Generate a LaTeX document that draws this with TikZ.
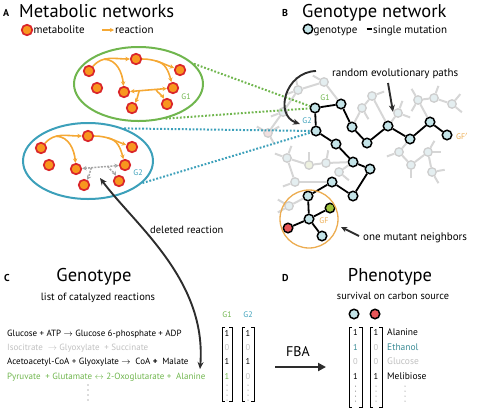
\documentclass[tikz,border=0pt]{standalone}
\usepackage{fontspec}
\setmainfont{PT Sans}
\usetikzlibrary{arrows.meta,shapes.geometric}
\definecolor{mgreen}{RGB}{112,182,78}
\definecolor{mblue}{RGB}{60,160,186}
\definecolor{morange}{RGB}{245,168,52}
\definecolor{mred}{RGB}{218,38,42}
\definecolor{mfill}{RGB}{248,150,30}
\definecolor{gfill}{RGB}{196,228,232}
\definecolor{gline}{RGB}{214,214,214}
\definecolor{gnline}{RGB}{206,206,206}
\definecolor{gnfill}{RGB}{228,238,240}
\definecolor{gforange}{RGB}{236,172,80}
\definecolor{tgreen}{RGB}{112,182,78}
\definecolor{tteal}{RGB}{60,140,150}
\definecolor{tgrey}{RGB}{192,192,192}
\definecolor{darkarrow}{RGB}{45,45,45}
\newcommand\metnet[2]{%
  \node[met] (#1a) at (89,-71) {};
  \node[met] (#1b) at (136,-59) {};
  \node[met] (#1c) at (180,-70) {};
  \node[met] (#1d) at (97,-88) {};
  \node[met] (#1e) at (124,-92) {};
  \node[met] (#1f) at (173,-88) {};
  \node[met] (#1g) at (132,-108) {};
  \node[met] (#1h) at (167,-104) {};
  \draw[rxn] (#1a) to[out=50,in=180] coordinate[pos=0.35] (#1r1) (#1b);
  \draw[rxn] (#1r1) to[out=0,in=95] (#1e);
  \draw[rxn] (#1b) to[out=0,in=160] coordinate[pos=0.4] (#1r2) (#1c);
  \draw[rxn] (#1r2) to[out=-10,in=105] (#1f);
  \draw[#2,{Stealth[length=4.5pt,width=4.5pt]}-{Stealth[length=4.5pt,width=4.5pt]}] (#1e) -- coordinate[pos=0.25] (#1r3) coordinate[pos=0.7] (#1r4) (#1f);
  \draw[#2,-{Stealth[length=4.5pt,width=4.5pt]}] (#1r3) to[out=-110,in=60] (#1g);
  \draw[#2,-{Stealth[length=4.5pt,width=4.5pt]}] (#1r4) to[out=-60,in=120] (#1h);
}
\begin{document}
\begin{tikzpicture}[x=1pt,y=1pt,
  met/.style={circle,minimum size=10.5pt,inner sep=0,fill=mfill,draw=mred,line width=1.7pt},
  rxn/.style={draw=morange,line width=1.6pt,-{Stealth[length=4.5pt,width=4.5pt]}},
  rxnok/.style={draw=morange,line width=1.6pt},
  rxndel/.style={draw=gray!70,line width=1.5pt,dash pattern=on 2pt off 1.2pt},
  ttl/.style={font=\fontsize{18.5}{20}\selectfont,inner sep=0,anchor=base west},
  plab/.style={font=\bfseries\fontsize{10}{12}\selectfont,inner sep=0,anchor=base west},
  leg/.style={font=\fontsize{11}{13}\selectfont,inner sep=0,anchor=base west},
  glab/.style={font=\fontsize{8}{10}\selectfont,inner sep=0},
  gnode/.style={circle,minimum size=9.5pt,inner sep=0,fill=gfill,draw=black,line width=1.5pt},
  gg/.style={circle,minimum size=8.5pt,inner sep=0,fill=gnfill,draw=gnline,line width=1.3pt},
  gedge/.style={draw=gline,line width=2pt},
  pedge/.style={draw=black,line width=1.8pt},
  dotg/.style={draw=mgreen,line width=2pt,dash pattern=on 1.8pt off 1.8pt},
  dotb/.style={draw=mblue,line width=2pt,dash pattern=on 1.8pt off 1.8pt},
  bigarrow/.style={draw=darkarrow,line width=1.9pt},
  rx/.style={font=\fontsize{9}{11}\selectfont,inner sep=0,anchor=base west},
  ent/.style={font=\fontsize{8.5}{10}\selectfont,inner sep=0,anchor=base},
  brk/.style={draw=black,line width=0.9pt},
  sub/.style={font=\fontsize{10.5}{12}\selectfont,inner sep=0,anchor=base},
  lab/.style={font=\fontsize{11}{13}\selectfont,inner sep=0,anchor=base west}
]
\useasboundingbox (0,0) rectangle (478,-410);

% ---------------- Panel A ----------------
\node[plab] (labA) at (3,-16) {A};
\node[ttl] (ttlA) at (19,-17) {Metabolic networks};
\node[met] (legm) at (27,-30) {};
\node[leg] (legmt) at (33.5,-33.5) {metabolite};
\coordinate (legr1) at (102,-30);
\coordinate (legr2) at (114,-30);
\draw[rxn,-{Stealth[length=4pt,width=4pt]}] (legr1) -- (legr2);
\node[leg] (legrt) at (115,-33.5) {reaction};

\node[draw=mgreen,line width=2pt,ellipse,minimum width=129pt,minimum height=74pt,inner sep=0] (ellG1) at (138.5,-84) {};
\node[draw=mblue,line width=2pt,ellipse,minimum width=130pt,minimum height=76pt,inner sep=0] (ellG2) at (88,-161) {};

\metnet{p}{rxnok}
\begin{scope}[shift={(-48,-77)}]
\metnet{q}{rxndel}
\end{scope}
\node[glab,text=mgreen] (lG1) at (186,-97) {G1};
\node[glab,text=mblue] (lG2) at (138,-173) {G2};

% ---------------- Panel B ----------------
\node[plab] (labB) at (282,-16) {B};
\node[ttl] (ttlB) at (302,-17) {Genotype network};
\node[gnode] (leggn) at (308,-29) {};
\node[leg] (leggt) at (313.5,-33.5) {genotype};
\coordinate (legd1) at (366.5,-29);
\coordinate (legd2) at (371.5,-29);
\draw[line width=1.8pt] (legd1) -- (legd2);
\node[leg] (legst) at (373,-33.5) {single mutation};

% grey background network
\node[gg] (ga) at (324,-82) {};
\node[gg] (gb) at (298,-90) {};
\node[gg] (gc) at (283,-112) {};
\node[gg,fill={rgb,255:red,240;green,224;blue,224}] (gd) at (268,-133) {};
\node[gg] (ge) at (362,-108) {};
\node[gg] (gf) at (372,-96) {};
\node[gg] (ggn) at (398,-113) {};
\node[gg] (gh) at (418,-100) {};
\node[gg] (gi) at (434,-98) {};
\node[gg] (gj) at (452,-104) {};
\node[gg] (gk) at (287,-158) {};
\node[gg,fill={rgb,255:red,238;green,241;blue,224}] (gl) at (309,-165) {};
\node[gg] (gm) at (326,-163) {};
\node[gg] (gn) at (339,-172) {};
\node[gg] (go) at (295,-182) {};
\node[gg] (gp) at (289,-206) {};
\node[gg] (gq) at (399,-152) {};
\node[gg] (gr) at (411,-165) {};
\node[gg] (gs) at (428,-152) {};
\node[gg] (gt) at (432,-172) {};

% black path nodes
\node[gnode] (gG1) at (315,-108) {};
\node[gnode] (pa) at (341,-104) {};
\node[gnode] (pb) at (352,-127) {};
\node[gnode] (pc) at (367,-143) {};
\node[gnode] (pd) at (388,-126) {};
\node[gnode] (pe) at (410,-139) {};
\node[gnode] (pf) at (430,-122) {};
\node[gnode] (gGFp) at (447,-135) {};
\node[gnode] (gG2) at (316,-131) {};
\node[gnode] (qa) at (336,-144) {};
\node[gnode] (qb) at (353,-162) {};
\node[gnode] (qc) at (370,-169) {};
\node[gnode] (qd) at (353,-196) {};
\node[gnode] (qe) at (332,-182) {};
\node[gnode] (qf) at (308,-196) {};
\node[gnode] (gGF) at (309,-219) {};
\node[gnode,fill={rgb,255:red,160;green,196;blue,60}] (gGreen) at (330,-208) {};
\node[gnode,fill={rgb,255:red,232;green,86;blue,88}] (gRed) at (288,-228) {};
\node[gnode] (gBot) at (322,-236) {};

% grey edges
\foreach \a/\b in {ga/gb,gb/gc,gc/gd,ge/gf,ge/pb,gf/pd,ggn/pd,gh/gi,gi/gj,gh/pf,gq/gr,gr/gs,gs/gt,gq/pe,gk/gl,gl/gm,gm/qb,gn/qb,go/gk,gp/qf,go/qe,ga/pa}
  \draw[gedge] (\a) -- (\b);
\foreach \n/\ang in {ga/150,gb/200,gb/100,gc/200,gd/150,gd/30,gd/-60,ge/-60,gf/20,ggn/-20,ggn/70,gh/120,gh/-120,gi/70,gj/50,gj/-40,gk/160,gk/70,gl/90,gm/80,gn/-40,go/200,gp/150,gp/210,gq/200,gr/-90,gs/60,gs/0,gt/-60,gt/10}
  \draw[gedge] (\n.\ang) -- ++(\ang:8);

% black edges
\foreach \a/\b in {gG1/pa,pa/pb,pb/pc,pc/pd,pd/pe,pe/pf,pf/gGFp,gG1/gG2,gG2/qa,qa/qb,qb/qc,qc/qd,qd/qe,qe/qf,qf/gGF,gGF/gGreen,gGF/gRed,gGF/gBot}
  \draw[pedge] (\a) -- (\b);

\node[glab,text=mgreen] (tG1) at (325,-98) {G1};
\node[glab,text=mblue] (tG2) at (307,-121) {G2};
\node[glab,text=gforange,anchor=west] (tGFp) at (456,-136) {GF$'$};
\node[glab,text=gforange] (tGF) at (324,-221) {GF};
\node[draw=gforange,line width=1.3pt,circle,minimum size=58pt,inner sep=0] (circGF) at (309,-219) {};

% dotted connections
\draw[dotg] (ellG1.20) -- (gG1);
\draw[dotg] (ellG1.-52) -- (gG1);
\draw[dotb] (ellG2.42) -- (gG2);
\draw[dotb] (ellG2.-22) -- (gG2);

% annotations in B
\node[lab] (trep) at (332,-76) {random evolutionary paths};
\coordinate (rA1) at (316,-71);
\coordinate (rA2) at (300,-124);
\draw[bigarrow,-{Stealth[length=7pt,width=6pt]}] (rA1) .. controls (285,-72) and (274,-115) .. (rA2);
\coordinate (rB1) at (388,-83);
\coordinate (rB2) at (393,-112);
\draw[bigarrow,-{Stealth[length=7pt,width=6pt]}] (rB1) -- (rB2);
\node[lab] (tomn) at (363,-240) {one mutant neighbors};
\coordinate (oA1) at (359,-236);
\coordinate (oA2) at (341,-227);
\draw[bigarrow,-{Stealth[length=6pt,width=5.5pt]}] (oA1) -- (oA2);

% deleted reaction arrow
\node[lab,font=\fontsize{10.5}{12}\selectfont] (tdel) at (150,-233) {deleted reaction};
\coordinate (delR) at (100,-178);
\coordinate (delL) at (200,-369);
\draw[bigarrow,{Stealth[length=7pt,width=6pt]}-{Stealth[length=7pt,width=6pt]}] (delR) .. controls (135,-225) and (207,-280) .. (delL);

% ---------------- Panel C ----------------
\node[plab] (labC) at (4,-281) {C};
\node[ttl,anchor=base] (ttlC) at (94,-281) {Genotype};
\node[sub] (subC) at (98,-300) {list of catalyzed reactions};
\node[rx] (r1) at (7,-336) {Glucose + ATP $\rightarrow$ Glucose 6-phosphate + ADP};
\node[rx,text=tgrey] (r2) at (7,-350) {Isocitrate \ $\rightarrow$ Glyoxylate \ + Succinate};
\node[rx] (r3) at (7,-364) {Acetoacetyl-CoA + Glyoxylate $\rightarrow$ \ CoA \textbf{+} \ Malate};
\node[rx,text=tgreen] (r4) at (7,-379) {Pyruvate \ + Glutamate $\leftrightarrow$ 2-Oxoglutarate + \ Alanine};
\foreach \yy in {385,390,395,400} \fill[black!60] (88,-\yy) circle (0.55);

\node[glab,text=mgreen] (mG1) at (227,-315) {G1};
\node[glab,text=mblue] (mG2) at (248,-315) {G2};
\draw[brk] (225,-327) -| (222,-401) -- (225,-401);
\draw[brk] (229,-327) -| (232,-401) -- (229,-401);
\draw[brk] (245,-327) -| (242,-401) -- (245,-401);
\draw[brk] (251,-327) -| (254,-401) -- (251,-401);
\node[ent] (a11) at (227,-336) {1};
\node[ent,text=tgrey] (a12) at (227,-350) {0};
\node[ent] (a13) at (227,-364) {1};
\node[ent,text=tgreen] (a14) at (227,-379) {1};
\node[ent] (a21) at (248,-336) {1};
\node[ent,text=tgrey] (a22) at (248,-350) {0};
\node[ent] (a23) at (248,-364) {1};
\node[ent,text=tgrey] (a24) at (248,-379) {0};
\foreach \xx in {227,248} \foreach \yy in {385,390,395,400} \fill[black!60] (\xx,-\yy) circle (0.5);

% ---------------- Panel D ----------------
\node[plab] (labD) at (282,-281) {D};
\node[ttl,anchor=base] (ttlD) at (390,-281) {Phenotype};
\node[sub,font=\fontsize{10.3}{12}\selectfont] (subD) at (393,-299) {survival on carbon source};
\node[gnode] (phB) at (354,-314) {};
\node[gnode,fill={rgb,255:red,232;green,86;blue,88}] (phR) at (375,-314) {};
\draw[brk] (352,-327) -| (349,-407) -- (352,-407);
\draw[brk] (359,-327) -| (362,-407) -- (359,-407);
\draw[brk] (373,-327) -| (370,-407) -- (373,-407);
\draw[brk] (379,-327) -| (382,-407) -- (379,-407);
\node[ent] (b11) at (355.5,-335) {1};
\node[ent,text=tteal] (b12) at (355.5,-350) {1};
\node[ent,text=tgrey] (b13) at (355.5,-364) {0};
\node[ent] (b14) at (355.5,-379) {1};
\node[ent] (b21) at (376,-335) {1};
\node[ent,text=tgrey] (b22) at (376,-350) {0};
\node[ent,text=tgrey] (b23) at (376,-364) {0};
\node[ent] (b24) at (376,-379) {1};
\foreach \xx in {355.5,376,405} \foreach \yy in {386,391,396,401} \fill[black!60] (\xx,-\yy) circle (0.5);
\node[rx,font=\fontsize{9.5}{11}\selectfont] (c1) at (387,-335) {Alanine};
\node[rx,font=\fontsize{9.5}{11}\selectfont,text=tteal] (c2) at (387,-350) {Ethanol};
\node[rx,font=\fontsize{9.5}{11}\selectfont,text=tgrey] (c3) at (387,-364) {Glucose};
\node[rx,font=\fontsize{9.5}{11}\selectfont] (c4) at (387,-379) {Melibiose};

\node[font=\fontsize{14}{16}\selectfont,inner sep=0] (fba) at (298,-352) {FBA};
\coordinate (fbaL) at (275,-367);
\coordinate (fbaR) at (326,-367);
\draw[draw=darkarrow,line width=2.6pt,-{Triangle[length=8pt,width=8pt]}] (fbaL) -- (fbaR);
\end{tikzpicture}
\end{document}
